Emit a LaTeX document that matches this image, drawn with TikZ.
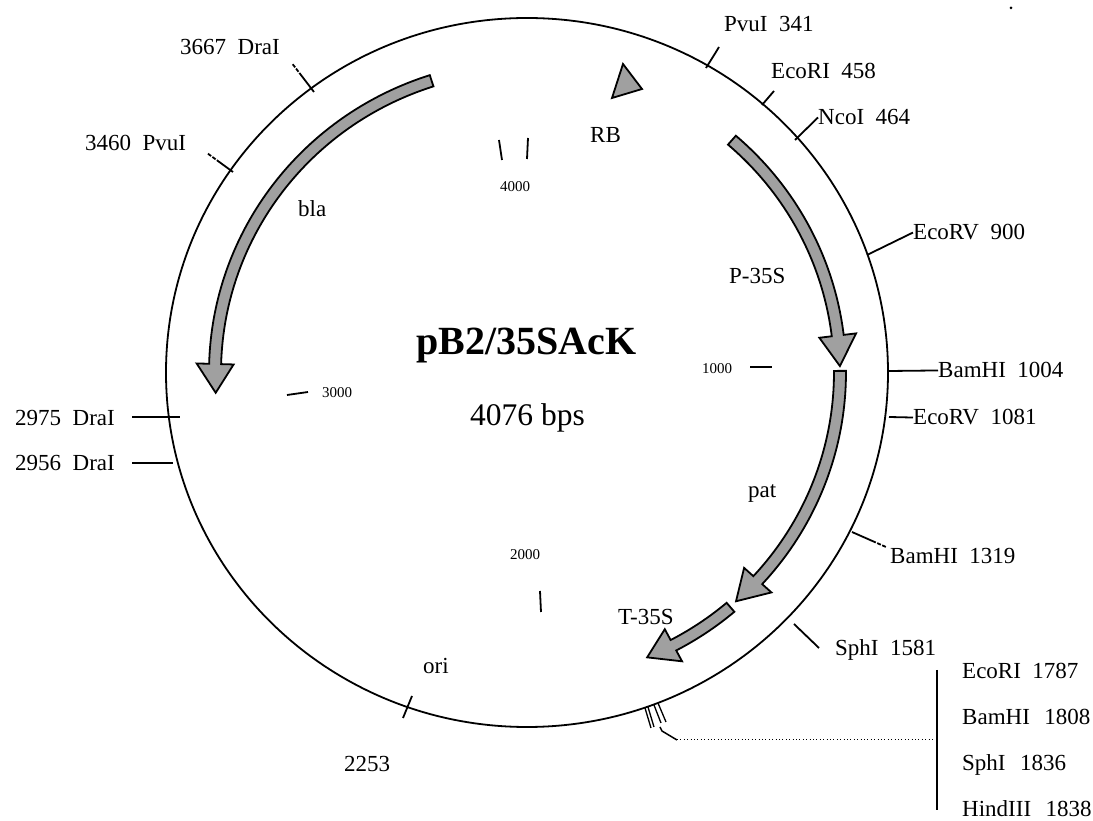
\documentclass[tikz,border=0pt]{standalone}
\usepackage{fontspec}
\setmainfont{Liberation Serif}
\usetikzlibrary{calc}
\definecolor{genefill}{HTML}{A0A0A0}

\newcommand{\genearrow}[4]{%
    \draw[gene]
        (#1:{#4+6}) arc[start angle=#1, end angle=#2, radius=#4 pt+6pt]
        -- (#2:{#4+18.5}) -- (#3:#4) -- (#2:{#4-18.5}) -- (#2:{#4-6})
        arc[start angle=#2, end angle=#1, radius=#4 pt-6pt] -- cycle;
}

\begin{document}
\begin{tikzpicture}[
    x=1pt, y=1pt,
    gene/.style={draw=black, fill=genefill, line width=1.8pt, line join=miter},
    lab/.style={anchor=base west, inner sep=0pt, font=\fontsize{23}{26}\selectfont},
    scale label/.style={anchor=base west, inner sep=0pt, font=\fontsize{15}{17}\selectfont},
    sitetick/.style={line width=1.8pt},
    endgap/.style={line width=1.8pt, dash pattern=on #1 off 1.5pt on 4pt off 1.5pt on 4pt off 20pt},
]
\useasboundingbox (-529, -445) rectangle (564, 376);

% Backbone
\draw[line width=1.8pt] (-2, 3.5) ellipse [x radius=361pt, y radius=354.5pt];

% Title
\node[anchor=base west, inner sep=0pt, font=\fontsize{40}{44}\selectfont\bfseries] (title)
    at (-113, 21) {pB2/35SAcK};
\node[anchor=base west, inner sep=0pt, font=\fontsize{31.5}{36}\selectfont] (size)
    at (-59, -50) {4076 bps};

% Genes
\begin{scope}[shift={(-2, 3.5)}, yscale=0.982]
    \genearrow{49.1}{6.9}{1.2}{313}
    \genearrow{0.3}{-42.5}{-48.1}{313}
    \genearrow{-49.6}{-62.2}{-67.5}{314}
    \genearrow{107.8}{178.4}{183.8}{312}
\end{scope}
\draw[gene] (94, 312) -- (113, 287) -- (83, 278) -- cycle;

% Gene labels
\node[lab] (rb) at (61, 233) {RB};
\node[lab] (p35s) at (200, 92) {P-35S};
\node[lab] (pat) at (219, -122) {pat};
\node[lab] (t35s) at (89, -249) {T-35S};
\node[lab] (bla) at (-231, 159) {bla};
\node[lab] (ori) at (-106, -298) {ori};

% Scale marks
\node[scale label] (s4000) at (-29, 184) {4000};
\node[scale label] (s3000) at (-207, -22) {3000};
\node[scale label] (s2000) at (-19, -184) {2000};
\node[scale label] (s1000) at (173, 2) {1000};
\coordinate (m4a) at (-30, 236);
\coordinate (m4b) at (-27, 216);
\coordinate (m4c) at (-1, 238);
\coordinate (m4d) at (-2, 217);
\coordinate (m3a) at (-242, -19);
\coordinate (m3b) at (-221, -16);
\coordinate (m2a) at (11, -215);
\coordinate (m2b) at (12, -236);
\coordinate (m1a) at (221, 9);
\coordinate (m1b) at (243, 9);
\draw[sitetick] (m4a) -- (m4b);
\draw[sitetick] (m4c) -- (m4d);
\draw[sitetick] (m3a) -- (m3b);
\draw[sitetick] (m2a) -- (m2b);
\draw[sitetick] (m1a) -- (m1b);

% Sites, right side
\node[lab] (pvu341) at (195, 344) {PvuI~~341};
\node[lab] (eco458) at (242, 297) {EcoRI~~458};
\node[lab] (nco464) at (289, 251) {NcoI~~464};
\node[lab] (rv900) at (384, 136) {EcoRV~~900};
\node[lab] (bam1004) at (409, -2) {BamHI~~1004};
\node[lab] (rv1081) at (384, -49) {EcoRV~~1081};
\node[lab] (bam1319) at (361, -188) {BamHI~~1319};
\node[lab] (sph1581) at (306, -280) {SphI~~1581};

\coordinate (c341) at (177, 308);
\coordinate (k341) at (187, 324);
\coordinate (e341) at (190, 329);
\coordinate (c458) at (233, 271);
\coordinate (e458) at (245, 285);
\coordinate (c464) at (266, 236);
\coordinate (c900) at (338, 121);
\coordinate (c1004) at (360, 5);
\coordinate (c1081) at (360, -41);
\coordinate (c1319) at (323, -156);
\coordinate (e1319) at (357, -171);
\coordinate (c1581) at (265, -248);
\coordinate (e1581) at (290, -272);

\draw[sitetick] (c341) -- (k341) -- (e341);
\draw[sitetick] (c458) -- (e458);
\draw[sitetick] (c464) -- (nco464.west);
\draw[sitetick] (c900) -- (rv900.west);
\draw[sitetick] (c1004) -- (bam1004.west);
\draw[sitetick] (c1081) -- (rv1081.west);
\draw[endgap=26pt] (c1319) -- (e1319);
\draw[sitetick] (c1581) -- (e1581);

% Sites, left side
\node[lab] (dra3667) at (-349, 321) {3667~~DraI};
\node[lab] (pvu3460) at (-444, 225) {3460~~PvuI};
\node[lab] (dra2975) at (-514, -50) {2975~~DraI};
\node[lab] (dra2956) at (-514, -95) {2956~~DraI};
\node[lab] (ori2253) at (-185, -396) {2253};

\coordinate (c3667) at (-215, 284);
\coordinate (e3667) at (-238, 314);
\coordinate (c3460) at (-296, 204);
\coordinate (e3460) at (-322, 223);
\coordinate (c2975) at (-349, -41);
\coordinate (e2975) at (-397, -41);
\coordinate (c2956) at (-356, -87);
\coordinate (e2956) at (-397, -87);
\coordinate (c2253) at (-117, -320);
\coordinate (e2253) at (-126, -342);

\draw[endgap=24pt] (c3667) -- (e3667);
\draw[endgap=20pt] (c3460) -- (e3460);
\draw[sitetick] (c2975) -- (e2975);
\draw[sitetick] (c2956) -- (e2956);
\draw[sitetick] (c2253) -- (e2253);

% Cluster of four sites
\node[lab] (eco1787) at (433, -303) {EcoRI~~1787};
\node[lab] (bam1808) at (433, -349) {BamHI~~\hspace{3pt}1808};
\node[lab] (sph1836) at (433, -395) {SphI~~\hspace{3pt}1836};
\node[lab] (hin1838) at (433, -441) {HindIII~~\hspace{3pt}1838};

\coordinate (a1787) at (116, -332);
\coordinate (b1787) at (122, -352);
\coordinate (a1808) at (119, -331);
\coordinate (b1808) at (125, -351);
\coordinate (a1836) at (125, -329);
\coordinate (b1836) at (132, -347);
\coordinate (a1838) at (129, -327);
\coordinate (b1838) at (137, -346);
\draw[line width=1.3pt] (a1787) -- (b1787);
\draw[line width=1.3pt] (a1808) -- (b1808);
\draw[line width=1.3pt] (a1836) -- (b1836);
\draw[line width=1.3pt] (a1838) -- (b1838);

\coordinate (stema) at (131, -351);
\coordinate (stemb) at (133, -355);
\coordinate (stemc) at (148, -364);
\coordinate (bartop) at (408, -294);
\coordinate (barbot) at (408, -434);
\coordinate (barmid) at (406, -364);
\draw[line width=1.5pt] (stema) -- (stemb) -- (stemc);
\draw[line width=1pt, dash pattern=on 1pt off 2.4pt] (stemc) -- (barmid);
\draw[sitetick] (bartop) -- (barbot);

% Speck at the top
\fill (482, 368) circle (1.5pt);

\end{tikzpicture}
\end{document}
